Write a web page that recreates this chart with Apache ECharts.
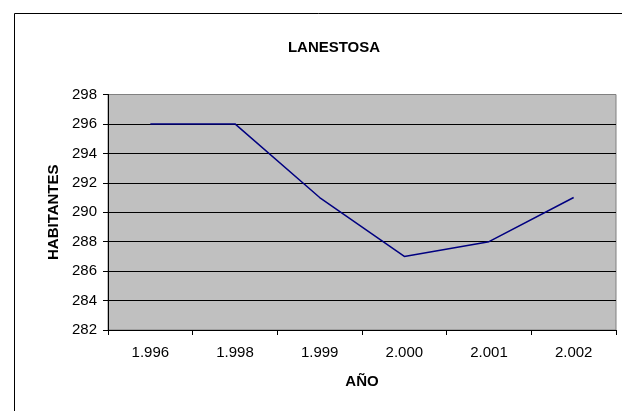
<!DOCTYPE html>
<html>
<head>
<meta charset="utf-8">
<script src="https://cdn.jsdelivr.net/npm/echarts@6/dist/echarts.min.js"></script>
<style>
  html, body { margin: 0; padding: 0; background: #fff; }
  #main { width: 622px; height: 411px; }
</style>
</head>
<body>
<div id="main"></div>
<script>
  // datos del grafico
  var years = ['1.996', '1.998', '1.999', '2.000', '2.001', '2.002'];
  var habitantes = [296, 296, 291, 287, 288, 291];

  var chart = echarts.init(document.getElementById('main'));
  var font = 'Arial, "Liberation Sans", sans-serif';

  var option = {
    animation: false,
    backgroundColor: '#fff',
    title: {
      text: 'LANESTOSA',
      left: 329,
      textAlign: 'center',
      top: 35,
      textStyle: { fontFamily: font, fontSize: 15, fontWeight: 'bold', color: '#000' }
    },
    graphic: [
      {
        type: 'rect',
        shape: { x: 14.5, y: 13.5, width: 700, height: 500 },
        style: { fill: 'none', stroke: '#000', lineWidth: 1 },
        silent: true
      }
    ],
    grid: {
      left: 108,
      top: 94.5,
      right: 6,
      bottom: 81,
      show: true,
      backgroundColor: '#C0C0C0',
      borderColor: '#808080',
      borderWidth: 1
    },
    xAxis: {
      type: 'category',
      data: years,
      boundaryGap: true,
      name: 'AÑO',
      nameLocation: 'middle',
      nameGap: 44,
      nameTextStyle: { fontFamily: font, fontSize: 15, fontWeight: 'bold', color: '#000' },
      axisLine: { lineStyle: { color: '#000', width: 1 } },
      axisTick: { show: true, length: 5, lineStyle: { color: '#000' } },
      axisLabel: { fontFamily: font, fontSize: 15, color: '#000', margin: 15 },
      splitLine: { show: false }
    },
    yAxis: {
      type: 'value',
      min: 282,
      max: 298,
      interval: 2,
      name: 'HABITANTES',
      nameLocation: 'middle',
      nameGap: 44,
      nameTextStyle: { fontFamily: font, fontSize: 15, fontWeight: 'bold', color: '#000' },
      axisLine: { show: true, lineStyle: { color: '#000', width: 1 } },
      axisTick: { show: true, length: 5, lineStyle: { color: '#000' } },
      axisLabel: { fontFamily: font, fontSize: 15, color: '#000', margin: 11 },
      splitLine: { show: true, showMaxLine: false, lineStyle: { color: '#000', width: 1 } }
    },
    series: [
      {
        type: 'line',
        data: habitantes,
        symbol: 'none',
        lineStyle: { color: '#000080', width: 1.5 },
        itemStyle: { color: '#000080' }
      }
    ]
  };

  chart.setOption(option);
</script>
</body>
</html>
